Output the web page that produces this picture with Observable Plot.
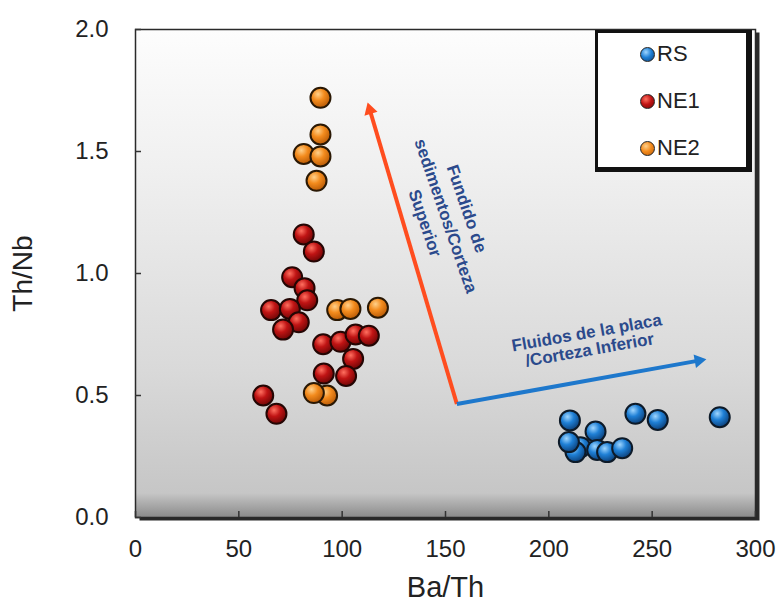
<!DOCTYPE html>
<html>
<head>
<meta charset="utf-8">
<script src="https://cdn.jsdelivr.net/npm/d3@7"></script>
<script src="https://cdn.jsdelivr.net/npm/@observablehq/plot@0.6"></script>
<style>
  body { margin: 0; background: #fff; font-family: "Liberation Sans", Arial, sans-serif; }
  #wrap { position: relative; width: 777px; height: 603px; }
  #legend { position: absolute; left: 595px; top: 30px; width: 148px; height: 134px;
    border: 3px solid #111; border-right-width: 6px; border-bottom-width: 5px; background: #fff; }
  .row { position: absolute; left: 42px; height: 26px; display: flex; align-items: center;
    font-size: 22px; color: #222; }
  .sw { width: 13px; height: 13px; border-radius: 50%; margin-right: 2px; border: 1px solid #222; }
</style>
</head>
<body>
<div id="wrap"><div id="chart"></div><div id="legend"></div></div>
<script>
// ---- data ----
const seriesNames = ["RS", "NE1", "NE2"];
const rsX  = [210.2, 241.9, 252.7, 282.7, 222.6, 215.3, 212.9, 223.4, 228.2, 235.5, 209.7];
const rsY  = [0.398, 0.425, 0.400, 0.411, 0.352, 0.288, 0.268, 0.277, 0.268, 0.284, 0.309];
const ne1X = [81.4, 86.3, 75.8, 81.8, 83.1, 65.6, 74.7, 79.0, 71.4, 90.8, 99.2, 106.5, 112.9, 105.3, 91.1, 101.9, 61.8, 68.2];
const ne1Y = [1.16, 1.09, 0.985, 0.94, 0.89, 0.85, 0.855, 0.80, 0.77, 0.71, 0.72, 0.75, 0.745, 0.65, 0.59, 0.58, 0.50, 0.425];
const ne2X = [89.5, 89.5, 81.4, 89.5, 87.6, 97.6, 104.0, 117.3, 92.7, 86.3];
const ne2Y = [1.72, 1.57, 1.49, 1.48, 1.38, 0.85, 0.855, 0.86, 0.50, 0.51];
const xTicks = [0, 50, 100, 150, 200, 250, 300];
const yTicks = [0, 0.5, 1.0, 1.5, 2.0];
const arrowStartX = [155.5, 155.5];
const arrowStartY = [0.465, 0.465];
const arrowEndX   = [113.4, 272.5];
const arrowEndY   = [1.670, 0.643];
const arrowColors = ["#ff4d1f", "#1e78cc"];
const noteText = ["Fundido de\nsedimentos/Corteza\nSuperior", "Fluidos de la placa\n/Corteza Inferior"];
const noteX = [150.8, 219.0];
const noteY = [1.238, 0.722];
const noteRotate = [71, -10];
const noteSize = [17, 17];
const noteLineHeight = [1.3, 1.02];

// ---- styles ----
const colors = {
  RS:  {light: "#9fd6ff", base: "#1f80d6", dark: "#0c3f78", stroke: "#0d1a28"},
  NE1: {light: "#ff7060", base: "#c01414", dark: "#6e0606", stroke: "#240604"},
  NE2: {light: "#ffd08a", base: "#f38b1d", dark: "#b85a06", stroke: "#2a1804"}
};

const W = 777, H = 603, mL = 135, mR = 22, mT = 29, mB = 86;
const xDomain = [0, 300], yDomain = [0, 2];
const sx = Plot.scale({x: {domain: xDomain, range: [mL, W - mR]}});
const sy = Plot.scale({y: {domain: yDomain, range: [H - mB, mT]}});

const pts = (xs, ys) => xs.map((x, i) => ({x, y: ys[i]}));
const arrows = arrowStartX.map((x1, i) => {
  const dx = sx.apply(arrowEndX[i]) - sx.apply(x1);
  const dy = sy.apply(arrowEndY[i]) - sy.apply(arrowStartY[i]);
  return {x1, y1: arrowStartY[i], x2: arrowEndX[i], y2: arrowEndY[i], color: arrowColors[i],
          angle: Math.atan2(dx, -dy) * 180 / Math.PI};
});
const notes = noteText.map((t, i) => ({t, x: noteX[i], y: noteY[i], r: noteRotate[i]}));

const defs = () => {
  const d = d3.create("svg:defs");
  const bg = d.append("linearGradient").attr("id", "bgGrad").attr("x1", 0).attr("y1", 0).attr("x2", 0).attr("y2", 1);
  [[0, "#fdfdfd"], [0.3, "#efefef"], [0.7, "#d9d9d9"], [0.95, "#c6c6c6"], [1, "#8a8a8a"]]
    .forEach(([o, c]) => bg.append("stop").attr("offset", o).attr("stop-color", c));
  for (const k of seriesNames) {
    const c = colors[k];
    const g = d.append("radialGradient").attr("id", "g" + k).attr("cx", "0.38").attr("cy", "0.32").attr("r", "0.7");
    g.append("stop").attr("offset", 0).attr("stop-color", c.light);
    g.append("stop").attr("offset", 0.45).attr("stop-color", c.base);
    g.append("stop").attr("offset", 1).attr("stop-color", c.dark);
  }
  return d.node();
};

const dotMark = (k, xs, ys) => Plot.dot(pts(xs, ys), {x: "x", y: "y", r: 10, fill: `url(#g${k})`,
  stroke: colors[k].stroke, strokeWidth: 2});

const noteMarks = notes.map((n, i) => Plot.text([n], {x: "x", y: "y", text: "t", rotate: "r",
  fontSize: noteSize[i], fontWeight: "bold", fill: "#2b4a8c", lineHeight: noteLineHeight[i]}));

const chart = Plot.plot({
  width: W, height: H,
  marginLeft: mL, marginRight: mR, marginTop: mT, marginBottom: mB,
  style: {fontFamily: "'Liberation Sans', Arial, sans-serif", background: "#fff", color: "#222"},
  x: {domain: xDomain},
  y: {domain: yDomain},
  marks: [
    defs,
    Plot.frame({fill: "#2a2a2a", dx: 4, dy: 3}),
    Plot.frame({fill: "url(#bgGrad)", stroke: "#2a2a2a", strokeWidth: 1.5}),
    Plot.axisX({ticks: xTicks, tickSize: 6, dy: -6, tickFormat: () => "", stroke: "#333", strokeWidth: 1.5}),
    Plot.axisY({ticks: yTicks, tickSize: 6, dx: 6, tickFormat: () => "", stroke: "#333", strokeWidth: 1.5}),
    Plot.axisX({ticks: xTicks, tickSize: 0, tickPadding: 22, fontSize: 24, label: null, fill: "#222"}),
    Plot.axisY({ticks: yTicks, tickSize: 0, tickPadding: 27, fontSize: 24, label: null, tickFormat: ".1f", fill: "#222"}),
    Plot.text(["Th/Nb"], {frameAnchor: "left", dx: -112, rotate: -90, fontSize: 28, fill: "#222",
      textAnchor: "middle", lineAnchor: "middle"}),
    Plot.text(["Ba/Th"], {frameAnchor: "bottom", dy: 70, fontSize: 29, fill: "#222",
      textAnchor: "middle", lineAnchor: "middle"}),
    Plot.link(arrows, {x1: "x1", y1: "y1", x2: "x2", y2: "y2", stroke: "color", strokeWidth: 4}),
    Plot.dot(arrows, {x: "x2", y: "y2", symbol: "triangle2", r: 6.5, fill: "color", rotate: "angle"}),
    ...noteMarks,
    dotMark("RS", rsX, rsY),
    dotMark("NE1", ne1X, ne1Y),
    dotMark("NE2", ne2X, ne2Y)
  ]
});
document.getElementById("chart").append(chart);

// legend
const lg = document.getElementById("legend");
const rowTops = {RS: 8, NE1: 55, NE2: 102};
for (const k of seriesNames) {
  const c = colors[k];
  const row = document.createElement("div");
  row.className = "row";
  row.style.top = rowTops[k] + "px";
  row.innerHTML = `<span class="sw" style="background:radial-gradient(circle at 38% 32%, ${c.light}, ${c.base} 45%, ${c.dark})"></span><span>${k}</span>`;
  lg.append(row);
}
</script>
</body>
</html>
